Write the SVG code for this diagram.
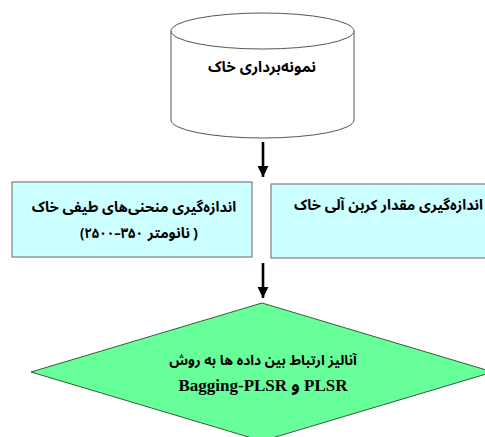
<svg xmlns="http://www.w3.org/2000/svg" width="485" height="437" viewBox="0 0 485 437">
<defs>
<style>
.ar{font-family:"Noto Sans Arabic","DejaVu Sans",sans-serif;font-weight:bold;font-size:14.5px;fill:#000}
.ltr{direction:ltr;unicode-bidi:bidi-override}
.lat{font-family:"Liberation Serif","Noto Sans Arabic",serif;font-weight:bold;font-size:17px;fill:#000}
.box{fill:#ccffff;stroke:#7f7f7f;stroke-width:1.2}
.conn{stroke:#000;stroke-width:2.6;fill:none}
</style>
<marker id="ah" viewBox="0 0 10 10" refX="10" refY="5" markerWidth="4.2" markerHeight="5.2" markerUnits="strokeWidth" orient="auto">
<path d="M0,0 L10,5 L0,10 Z" fill="#000"/>
</marker>
</defs>
<rect width="485" height="437" fill="#fff"/>
<g id="node-sampling">
<path d="M171,31 L171,120 A91.5,18 0 0 0 354,120 L354,31" fill="#fff" stroke="#555" stroke-width="1"/>
<ellipse cx="262.5" cy="31" rx="91.5" ry="18" fill="#fff" stroke="#555" stroke-width="1"/>
<text class="ar" x="262" y="72" text-anchor="middle" style="font-size:15px">نمونه‌برداری خاک</text>
</g>
<g id="node-spectra">
<rect class="box" x="12" y="182" width="240" height="75"/>
<text class="ar" x="134" y="212" text-anchor="middle">اندازه‌گیری منحنی‌های طیفی خاک</text>
<text class="ar ltr" x="80" y="238" textLength="63" lengthAdjust="spacingAndGlyphs">(۲۵۰۰–۳۵۰</text>
<text class="ar" x="190" y="238" text-anchor="end">نانومتر</text>
<text class="ar ltr" x="193" y="238">)</text>
</g>
<g id="node-carbon">
<rect class="box" x="271" y="184" width="230" height="74"/>
<text class="ar" x="483" y="210" text-anchor="end">اندازه‌گیری مقدار کربن آلی خاک</text>
</g>
<g id="node-analysis">
<polygon points="262,303 493,372 262,441 31,372" fill="#66ff99" stroke="#3a5a3a" stroke-width="1"/>
<text class="ar" x="263" y="365" text-anchor="middle" style="font-size:13.8px">آنالیز ارتباط بین داده ها به روش</text>
<text class="lat" x="263" y="391" text-anchor="middle">Bagging-PLSR و PLSR</text>
</g>
<g id="connectors">
<line class="conn" x1="263" y1="142" x2="263" y2="177" marker-end="url(#ah)"/>
<line class="conn" x1="263" y1="263" x2="263" y2="298" marker-end="url(#ah)"/>
</g>
</svg>
